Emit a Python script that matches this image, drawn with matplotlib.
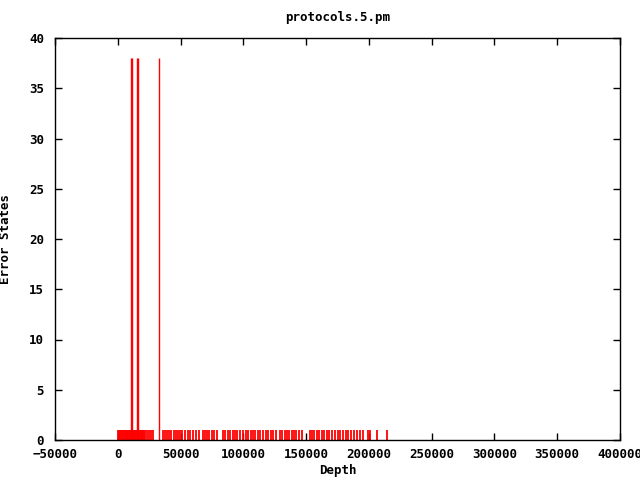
import numpy as np
import matplotlib
matplotlib.use("Agg")
import matplotlib.pyplot as plt

# profundidades com 1 estado de erro
depth_low = [0, 700, 1400, 2100, 2800, 3500, 4200, 4900, 5600, 6300, 7000, 7700,
             8400, 9100, 9800, 10500, 11200, 11900, 12600, 13300, 14000, 14700,
             15400, 16100, 16800, 17500, 18200, 18900, 19600, 20300, 21000, 21700,
             23300, 24900, 26500, 28100,
             36000, 37600, 39200, 40800, 42400, 44800, 46400, 48000, 49600, 51200,
             53500, 55900, 57500, 59900, 62300, 64700, 67900, 69500, 71100, 72700,
             75000, 76600, 79000, 83800, 85400, 87800, 89400, 91800, 93400, 95000,
             97300, 99700, 102100, 103700, 106100, 107700, 109300, 111700, 113300,
             115700, 118100, 119600, 122000, 123600, 126000, 129200, 130800, 133200,
             134800, 136400, 138800, 140400, 141900, 144300, 146700, 153100, 154700,
             156300, 158700, 160300, 162700, 164200, 166600, 168200, 170600, 173000,
             175400, 177000, 179400, 181800, 183400, 185800, 188100, 190500, 192900,
             195300, 199300, 200900, 206500, 214400]
# profundidades com 38 estados de erro
depth_high = [10900, 11600, 15300, 16000, 32800]
errors_high = [38, 38, 38, 38, 38]

font = {'family': 'DejaVu Sans Mono', 'weight': 'bold', 'size': 9}

fig = plt.figure(figsize=(6.4, 4.8), dpi=100)
ax = fig.add_axes([55/640, 40/480, 565/640, 402/480])

ax.vlines(depth_low, 0, np.ones(len(depth_low)), color='red', linewidth=1.3)
ax.vlines(depth_high, 0, errors_high, color='red', linewidth=1.0)

ax.set_xlim(-50000, 400000)
ax.set_ylim(0, 40)
ax.set_xticks(np.arange(-50000, 400001, 50000))
ax.set_yticks(np.arange(0, 41, 5))
ax.tick_params(direction='in', top=True, right=True, length=5, width=1)
ax.tick_params(axis='x', pad=6)
ax.tick_params(axis='y', pad=8)
for lbl in ax.get_xticklabels() + ax.get_yticklabels():
    lbl.set_fontfamily(font['family'])
    lbl.set_fontweight('bold')
    lbl.set_fontsize(9)
for s in ax.spines.values():
    s.set_linewidth(1)

ax.set_title('protocols.5.pm', fontdict=font, pad=12)
ax.set_xlabel('Depth', fontdict=font, labelpad=2)
ax.set_ylabel('Error States', fontdict=font, labelpad=12)

fig.savefig('out.png', dpi=100)
